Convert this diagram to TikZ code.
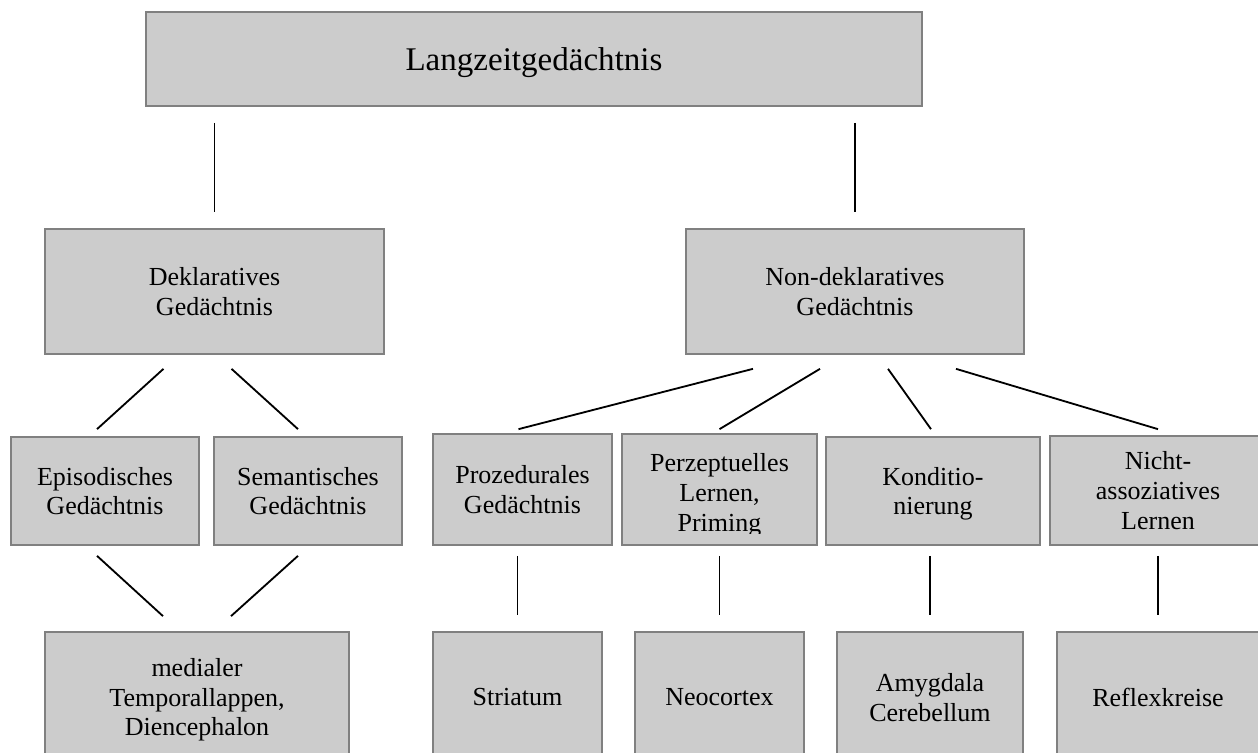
\documentclass[tikz,border=0pt]{standalone}
\usepackage{fontspec}
\setmainfont{Liberation Serif}
\usetikzlibrary{calc}
\tikzset{
  boxfont/.style={align=center, inner sep=0pt, text depth=0pt,
                  font=\fontsize{18.5}{21.3}\selectfont},
  box/.style={boxfont, draw=gray, line width=1.2pt, fill=black!20},
  link/.style={line width=1.3pt}
}

\begin{document}
\begin{tikzpicture}[x=0.025cm, y=-0.025cm]
    % Define the unit (one pixel of the page)
    \def\pxu{0.025cm}

    % Page frame
    \useasboundingbox (0,0) rectangle (1258,753);
    \clip (0,0) rectangle (1258,753);

    % Top level
    \node[box, minimum width=776*\pxu, minimum height=94*\pxu,
          font=\fontsize{23.5}{27}\selectfont] (lzg) at (534,59) {Langzeitgedächtnis};

    % Second level
    \node[box, minimum width=339*\pxu, minimum height=125*\pxu] (dekl) at (214.5,291.5) {Deklaratives\\Gedächtnis};
    \node[box, minimum width=338*\pxu, minimum height=125*\pxu] (nondekl) at (855,291.5) {Non-deklaratives\\Gedächtnis};

    % Third level
    \node[box, minimum width=188*\pxu, minimum height=108*\pxu] (epi) at (105,491) {Episodisches\\Gedächtnis};
    \node[box, minimum width=188*\pxu, minimum height=108*\pxu] (sem) at (308,491) {Semantisches\\Gedächtnis};
    \node[box, minimum width=179*\pxu, minimum height=111*\pxu] (proz) at (522.5,489.5) {Prozedurales\\Gedächtnis};
    \node[box, minimum width=195*\pxu, minimum height=111*\pxu] (perz) at (719.5,489.5) {};
    \node[box, minimum width=214*\pxu, minimum height=108*\pxu] (kond) at (933,491) {Konditio-\\nierung};
    \node[box, minimum width=216*\pxu, minimum height=109*\pxu] (nicht) at (1158,490.5) {Nicht-\\assoziatives\\Lernen};

    % text of the perceptual box is cut at its lower margin
    \begin{scope}
      \clip (perz.north west) rectangle ($(perz.south east)+(0,-12)$);
      \node[boxfont] (perztext) at ($(perz.center)+(0,3)$) {Perzeptuelles\\Lernen,\\Priming};
    \end{scope}

    % Brain regions
    \node[box, minimum width=304*\pxu, minimum height=130*\pxu] (med) at (197,697) {medialer\\Temporallappen,\\Diencephalon};
    \node[box, minimum width=169*\pxu, minimum height=130*\pxu] (stri) at (517.5,697) {Striatum};
    \node[box, minimum width=169*\pxu, minimum height=130*\pxu] (neo) at (719.5,697) {Neocortex};
    \node[box, minimum width=186*\pxu, minimum height=130*\pxu] (amy) at (930,697) {Amygdala\\Cerebellum};
    \node[box, minimum width=202*\pxu, minimum height=130*\pxu] (refl) at (1158,697) {Reflexkreise};

    % Lines from the top box
    \foreach \b in {dekl,nondekl}
      \draw[link] ($(\b.north |- lzg.south)+(0,16)$) -- ($(\b.north)+(0,-16)$);

    % Declarative branch
    \draw[link] ($(dekl.south)+(-51,14)$) -- ($(epi.north)+(-8,-7)$);
    \draw[link] ($(dekl.south)+(17,14)$) -- ($(sem.north)+(-10,-7)$);
    \draw[link] ($(epi.south)+(-8,10)$) -- ($(med.north)+(-34,-15)$);
    \draw[link] ($(sem.south)+(-10,10)$) -- ($(med.north)+(34,-15)$);

    % Non-declarative branch
    \foreach \dx/\b/\ex/\ey in {-102/proz/-4/-4, -35/perz/0/-4, 33/kond/-2/-7, 101/nicht/0/-6}
      \draw[link] ($(nondekl.south)+(\dx,14)$) -- ($(\b.north)+(\ex,\ey)$);
    \foreach \a/\b in {proz/stri, perz/neo, kond/amy, nicht/refl}
      \draw[link] ($(\b.north |- \a.south)+(0,10)$) -- ($(\b.north)+(0,-16)$);
\end{tikzpicture}
\end{document}
